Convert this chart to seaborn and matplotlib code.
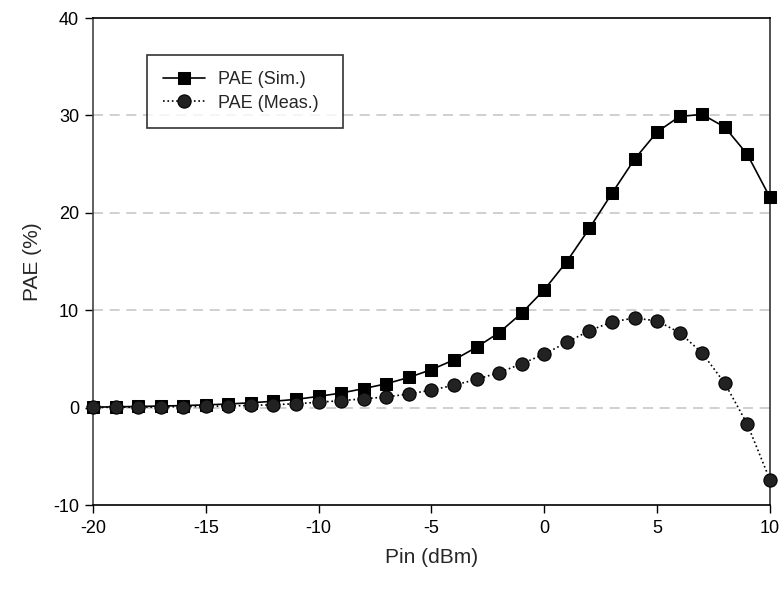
import matplotlib
matplotlib.use("Agg")
import matplotlib.pyplot as plt
import seaborn as sns
import pandas as pd

pin = list(range(-20, 11))
pae_sim = [0.05, 0.08, 0.12, 0.16, 0.21, 0.28, 0.37, 0.5, 0.65, 0.85, 1.15,
           1.5, 1.95, 2.45, 3.1, 3.9, 4.9, 6.2, 7.7, 9.7, 12.1,
           15.0, 18.4, 22.0, 25.5, 28.3, 29.9, 30.1, 28.8, 26.0, 21.6]
pae_meas = [0.02, 0.03, 0.05, 0.07, 0.1, 0.13, 0.17, 0.22, 0.3, 0.4, 0.55,
            0.72, 0.9, 1.1, 1.4, 1.8, 2.3, 2.9, 3.6, 4.5, 5.5,
            6.7, 7.9, 8.8, 9.2, 8.9, 7.7, 5.6, 2.5, -1.7, -7.4]
xticks = [-20, -15, -10, -5, 0, 5, 10]
yticks = [-10, 0, 10, 20, 30, 40]

sns.set_theme(style="white")
plt.rcParams['font.family'] = ['Liberation Sans', 'DejaVu Sans']

df = pd.DataFrame({"Pin": pin, "Sim": pae_sim, "Meas": pae_meas})

fig = plt.figure(figsize=(7.84, 5.89), dpi=100)
ax = fig.add_axes([0.1186, 0.1426, 0.8634, 0.8268])

for y in [0, 10, 20, 30]:
    ax.axhline(y, color="#c8c8c8", lw=1.2, ls=(0, (6, 4)), zorder=0)

sns.lineplot(data=df, x="Pin", y="Sim", ax=ax, color="black", lw=1.2,
             marker="s", markersize=8.5, markeredgecolor="black",
             markerfacecolor="black", label="PAE (Sim.)", clip_on=False, zorder=3)
sns.lineplot(data=df, x="Pin", y="Meas", ax=ax, color="black", lw=1.2,
             linestyle=":", marker="o", markersize=9.5, markeredgecolor="black",
             markerfacecolor="#222222", markeredgewidth=0.8,
             label="PAE (Meas.)", clip_on=False, zorder=3)

ax.set_xlim(-20, 10)
ax.set_ylim(-10, 40)
ax.set_xticks(xticks)
ax.set_yticks(yticks)
ax.set_xticklabels([str(t) for t in xticks])
ax.set_yticklabels([str(t) for t in yticks])
ax.tick_params(axis="both", which="both", direction="out", length=6, width=1,
               labelsize=13, colors="black", bottom=True, left=True, pad=5)
ax.tick_params(axis="y", pad=4)
for s in ax.spines.values():
    s.set_visible(True)
    s.set_color("black")
    s.set_linewidth(1.2)
ax.spines["left"].set_color("#444444")
ax.spines["right"].set_color("#333333")

ax.set_xlabel("Pin (dBm)", fontsize=15, labelpad=8)
ax.set_ylabel("PAE (%)", fontsize=15, labelpad=8)

leg = ax.legend(loc="upper left", bbox_to_anchor=(0.0798, 0.5, 0.2895, 0.424),
                mode="expand", fontsize=13,
                frameon=True, fancybox=False, edgecolor="black",
                handlelength=2.3, borderpad=0.9, labelspacing=0.35,
                handletextpad=0.75, borderaxespad=0)
leg.get_frame().set_linewidth(1.2)

fig.savefig("out.png", dpi=100)
